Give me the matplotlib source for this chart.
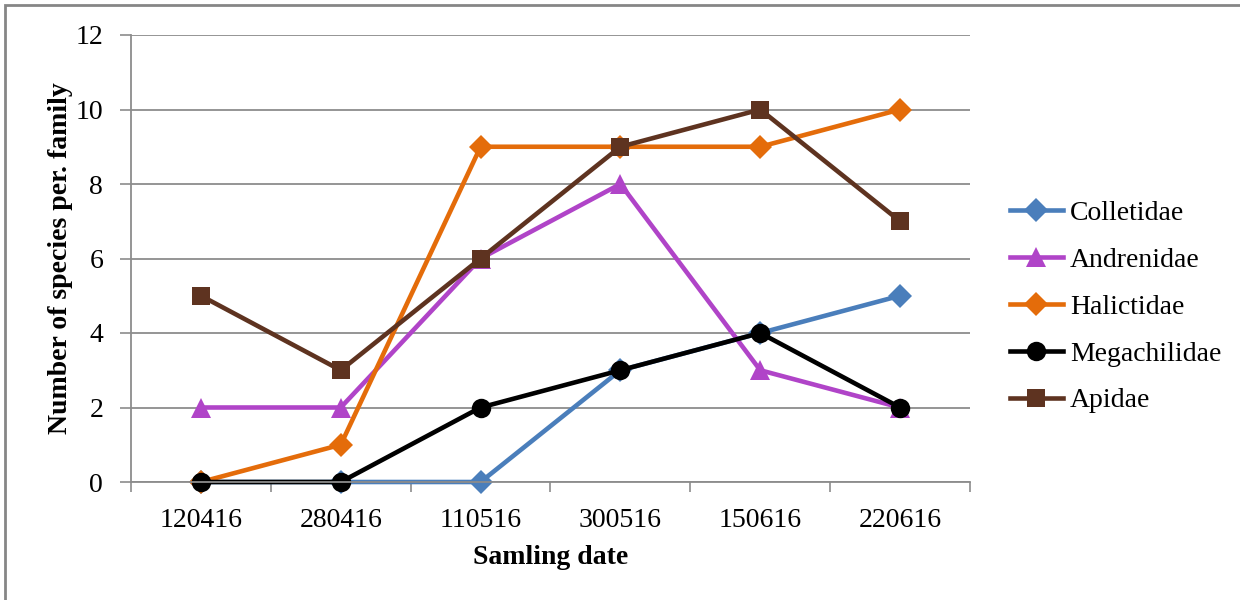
import matplotlib.pyplot as plt
from matplotlib.patches import Rectangle

dates = ["120416", "280416", "110516", "300516", "150616", "220616"]
colletidae = [0, 0, 0, 3, 4, 5]
andrenidae = [2, 2, 6, 8, 3, 2]
halictidae = [0, 1, 9, 9, 9, 10]
megachilidae = [0, 0, 2, 3, 4, 2]
apidae = [5, 3, 6, 9, 10, 7]

plt.rcParams['font.family'] = ['Liberation Serif', 'DejaVu Serif']

fig = plt.figure(figsize=(12.4, 6), dpi=100)
ax = fig.add_axes([131/1240, 1-482/600, (970-131)/1240, (482-35)/600])

x = range(len(dates))
series = [
    ("Colletidae", colletidae, "#4A7EBB", "D", 12),
    ("Andrenidae", andrenidae, "#B044C8", "^", 14),
    ("Halictidae", halictidae, "#E46C0A", "D", 12),
    ("Megachilidae", megachilidae, "#000000", "o", 14),
    ("Apidae", apidae, "#5E3320", "s", 12.5),
]
for name, vals, col, mk, ms in series:
    ax.plot(x, vals, color=col, lw=3.3, marker=mk, markersize=ms,
            markeredgewidth=0, label=name, clip_on=False)

ax.set_xlim(-0.5, 5.5)
ax.set_ylim(0, 12)
ax.set_yticks(range(0, 13, 2))
ax.set_xticks(list(x))
ax.set_xticklabels(dates)
ax.set_xticks([i - 0.5 for i in range(7)], minor=True)
ax.tick_params(axis='x', which='major', length=0, pad=19, labelsize=20)
ax.tick_params(axis='x', which='minor', length=7, width=1.2, color="#8C8C8C", direction='out')
ax.tick_params(axis='y', length=8, width=1.2, color="#8C8C8C", labelsize=20, pad=12)
ax.grid(axis='y', color="#8C8C8C", lw=1.3)
ax.set_axisbelow(True)
for s in ["top", "right"]:
    ax.spines[s].set_visible(False)
for s in ["left", "bottom"]:
    ax.spines[s].set_color("#8C8C8C")
    ax.spines[s].set_linewidth(1.3)

ax.set_xlabel("Samling date", fontsize=20, fontweight='bold', labelpad=8)
ax.set_ylabel("Number of species per. family", fontsize=20, fontweight='bold', labelpad=2)

fig.legend(loc='center left', bbox_to_anchor=(985/1240, 1-307/600), frameon=False,
           fontsize=20, handlelength=1.9, labelspacing=0.77, handletextpad=0.25)

# chart frame
fig.patches.append(Rectangle((5/1240, -0.01), 1.02, 1-5/600+0.01, transform=fig.transFigure,
                             fill=False, edgecolor="#868686", lw=2))

fig.savefig("out.png", dpi=100)
